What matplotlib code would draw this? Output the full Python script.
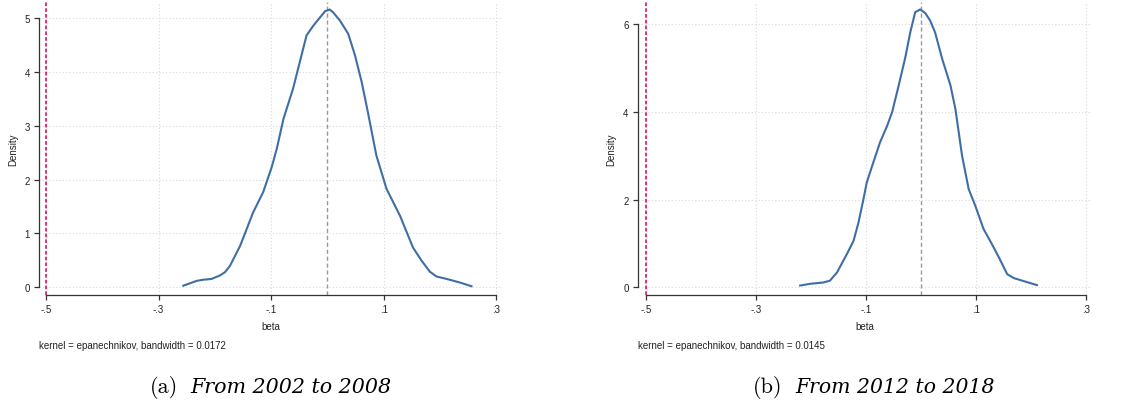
import matplotlib
matplotlib.use('Agg')
import matplotlib.pyplot as plt

plt.rcParams['font.family'] = ['Liberation Sans', 'DejaVu Sans']

# Kernel density estimates
beta_a = [-0.256, -0.232, -0.221, -0.206, -0.191, -0.182, -0.173, -0.155, -0.132, -0.114,
          -0.099, -0.090, -0.078, -0.061, -0.046, -0.037, -0.025, -0.004, 0.004, 0.010,
          0.022, 0.037, 0.049, 0.061, 0.072, 0.087, 0.105, 0.129, 0.152, 0.167,
          0.182, 0.194, 0.212, 0.235, 0.256]
dens_a = [0.03, 0.12, 0.14, 0.155, 0.22, 0.28, 0.40, 0.77, 1.39, 1.77,
          2.23, 2.57, 3.13, 3.69, 4.31, 4.68, 4.86, 5.13, 5.16, 5.11,
          4.96, 4.71, 4.31, 3.81, 3.25, 2.45, 1.83, 1.33, 0.74, 0.50,
          0.29, 0.20, 0.155, 0.09, 0.02]

beta_b = [-0.220, -0.202, -0.178, -0.166, -0.153, -0.135, -0.123, -0.114, -0.105, -0.099,
          -0.087, -0.075, -0.062, -0.053, -0.041, -0.029, -0.020, -0.011, -0.002, 0.007,
          0.016, 0.025, 0.038, 0.053, 0.062, 0.074, 0.086, 0.098, 0.113, 0.128,
          0.141, 0.156, 0.168, 0.189, 0.210]
dens_b = [0.04, 0.08, 0.11, 0.15, 0.34, 0.76, 1.06, 1.48, 2.01, 2.39,
          2.85, 3.30, 3.68, 3.99, 4.60, 5.24, 5.81, 6.27, 6.33, 6.25,
          6.08, 5.81, 5.20, 4.60, 4.06, 3.00, 2.24, 1.86, 1.33, 0.99,
          0.68, 0.30, 0.21, 0.13, 0.05]

x_ticks = [-0.5, -0.3, -0.1, 0.1, 0.3]
x_labels = ['-.5', '-.3', '-.1', '.1', '.3']
yticks_a = [0, 1, 2, 3, 4, 5]
yticks_b = [0, 2, 4, 6]
bandwidths = ['0.0172', '0.0145']
cap_tags = ['(a)', '(b)']
cap_texts = ['From 2002 to 2008', 'From 2012 to 2018']
ref_line = -0.5
center_line = 0.0

W, H = 1141, 406
fig = plt.figure(figsize=(W / 100, H / 100), dpi=100)


def px_axes(left, top, right, bottom):
    return fig.add_axes([left / W, 1 - bottom / H, (right - left) / W, (bottom - top) / H])


def draw_panel(ax, beta, dens, yticks, xlim, ylim, bw):
    ax.set_xlim(*xlim)
    ax.set_ylim(*ylim)
    ax.grid(True, color='#d9d9d9', linestyle=(0, (1, 2)), linewidth=0.8)
    ax.set_axisbelow(True)
    ax.axvline(center_line, color='#999999', linestyle=(0, (3, 2)), linewidth=1.0)
    ax.axvline(ref_line, color='#e0245e', linestyle=(0, (2, 1.2)), linewidth=1.3)
    ax.plot(beta, dens, color='#3f6ea6', linewidth=1.5)

    ax.set_xticks(x_ticks)
    ax.set_xticklabels(x_labels)
    ax.set_yticks(yticks)
    ax.set_yticklabels([str(t) for t in yticks])
    for side in ['top', 'right']:
        ax.spines[side].set_visible(False)
    ax.spines['bottom'].set_bounds(x_ticks[0], x_ticks[-1])
    ax.spines['left'].set_bounds(yticks[0], yticks[-1])
    for side in ['bottom', 'left']:
        ax.spines[side].set_color('#333333')
        ax.spines[side].set_linewidth(0.9)
    ax.tick_params(direction='out', length=3.5, width=0.9, color='#333333',
                   labelsize=7, labelcolor='#222222', pad=3)
    ax.set_xlabel('beta', fontsize=7, color='#222222', labelpad=5)
    ax.set_ylabel('Density', fontsize=7, color='#222222', labelpad=5)
    ax.text(0.0, -0.172, 'kernel = epanechnikov, bandwidth = ' + bw,
            transform=ax.transAxes, fontsize=7, color='#222222', va='center')


ax1 = px_axes(39.2, 3, 503, 296)
draw_panel(ax1, beta_a, dens_a, yticks_a, (-0.512, 0.312), (-0.143, 5.30), bandwidths[0])

ax2 = px_axes(637.7, 3, 1092, 296)
draw_panel(ax2, beta_b, dens_b, yticks_b, (-0.515, 0.310), (-0.175, 6.50), bandwidths[1])

# sub-captions: upright tag + italic serif text, sized to the reference width
renderer = fig.canvas.get_renderer()
cap_y = 1 - 388 / H
for tag, txt, x_tag, x_txt, x_end in zip(cap_tags, cap_texts,
                                         [150, 753], [190, 795], [392, 995]):
    fig.text(x_tag / W, cap_y, tag, family='cmr10', fontsize=16, va='center')
    t = fig.text(x_txt / W, cap_y, txt, family='DejaVu Serif', style='italic',
                 fontsize=14, va='center', fontweight='light')
    w = t.get_window_extent(renderer).width
    t.set_fontsize(14 * (x_end - x_txt) / w)

fig.savefig('out.png', dpi=100, facecolor='white')
